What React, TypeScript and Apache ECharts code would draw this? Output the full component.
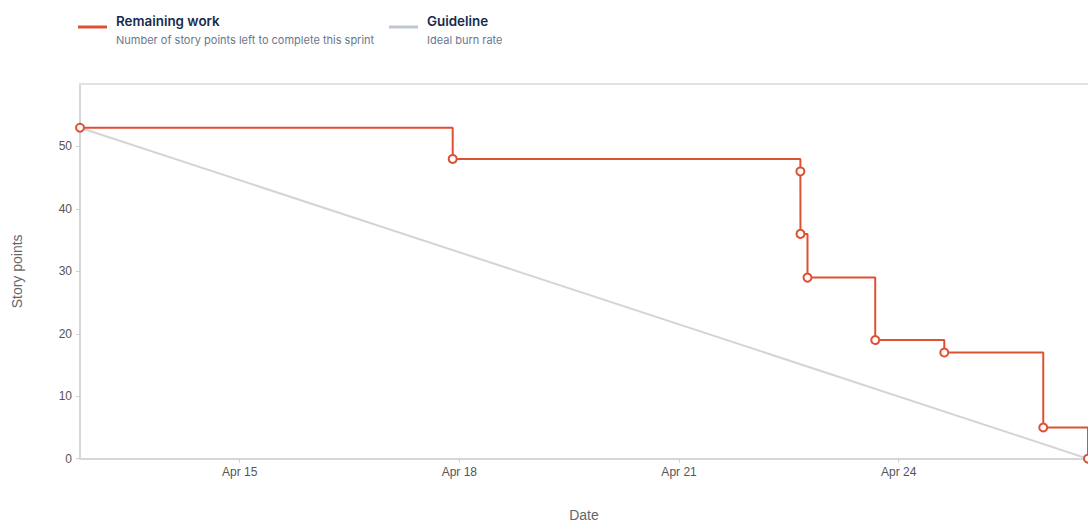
import React, { useEffect, useRef } from 'react';
import * as echarts from 'echarts';

const remainingTimes = [
  '2024-04-12T19:40', '2024-04-17T21:49', '2024-04-22T15:46', '2024-04-22T15:48',
  '2024-04-22T18:06', '2024-04-23T16:18', '2024-04-24T14:56', '2024-04-25T23:22', '2024-04-26T14:02',
];
const remainingPoints = [53, 48, 46, 36, 29, 19, 17, 5, 0];
const guideTimes = ['2024-04-12T19:40', '2024-04-26T14:02'];
const guidePoints = [53, 0];
const xTickDates = ['2024-04-15T00:00', '2024-04-18T00:00', '2024-04-21T00:00', '2024-04-24T00:00'];
const yTicks = [0, 10, 20, 30, 40, 50];
const monthNames = ['Jan', 'Feb', 'Mar', 'Apr', 'May', 'Jun', 'Jul', 'Aug', 'Sep', 'Oct', 'Nov', 'Dec'];

const RED = '#DE5034';
const toMs = (s: string) => Date.parse(s + ':00Z');

export default function App() {
  const ref = useRef<HTMLDivElement>(null);
  useEffect(() => {
    if (!ref.current) return;
    const chart = echarts.init(ref.current, undefined, { renderer: 'svg' });
    const xMin = toMs(guideTimes[0]);
    const xMax = toMs(guideTimes[1]);
    const xTicks = xTickDates.map(toMs);
    const axisFont = '"Liberation Sans", Arial, sans-serif';
    const legendFont = 'Inter, "Noto Sans", sans-serif';
    chart.setOption({
      animation: false,
      grid: { left: 80, top: 84, right: 0, bottom: 63.3, containLabel: false, outerBoundsMode: 'none' },
      xAxis: [
        {
          type: 'value',
          min: xMin,
          max: xMax,
          name: 'Date',
          nameLocation: 'middle',
          nameGap: 49,
          nameTextStyle: { color: '#666', fontSize: 14, fontFamily: axisFont },
          axisLine: { show: true, lineStyle: { color: '#d6d6d6', width: 2 } },
          axisTick: { show: true, length: 4, customValues: xTicks, lineStyle: { color: '#cfcfcf' } },
          axisLabel: {
            customValues: xTicks,
            color: '#555',
            fontSize: 12,
            fontFamily: axisFont,
            margin: 7,
            formatter: (v: number) => {
              const d = new Date(v);
              return monthNames[d.getUTCMonth()] + ' ' + d.getUTCDate();
            },
          },
          splitLine: { show: false },
        },
        {
          type: 'value',
          position: 'top',
          min: xMin,
          max: xMax,
          axisLine: { show: true, lineStyle: { color: '#e2e2e2', width: 2 } },
          axisTick: { show: false },
          axisLabel: { show: false },
          splitLine: { show: false },
        },
      ],
      yAxis: {
        type: 'value',
        min: 0,
        max: 60,
        name: 'Story points',
        nameLocation: 'middle',
        nameRotate: 90,
        nameGap: 56,
        nameTextStyle: { color: '#666', fontSize: 14, fontFamily: axisFont },
        axisLine: { show: true, lineStyle: { color: '#d6d6d6', width: 2 } },
        axisTick: { show: true, length: 4, customValues: yTicks, lineStyle: { color: '#cfcfcf' } },
        axisLabel: { customValues: yTicks, color: '#555', fontSize: 12, fontFamily: axisFont, margin: 8 },
        splitLine: { show: false },
      },
      graphic: [
        { type: 'line', shape: { x1: 78, y1: 27, x2: 107, y2: 27 }, style: { stroke: RED, lineWidth: 3 } },
        {
          type: 'text', x: 116, y: 21,
          style: { text: 'Remaining work', fill: '#172B4D', fontSize: 13.4, fontWeight: 600, fontFamily: legendFont, verticalAlign: 'middle' },
        },
        {
          type: 'text', x: 116, y: 39.5,
          style: { text: 'Number of story points left to complete this sprint', fill: '#6B778C', fontSize: 11, fontFamily: legendFont, verticalAlign: 'middle' },
        },
        { type: 'line', shape: { x1: 389, y1: 27, x2: 418, y2: 27 }, style: { stroke: '#C1C7D0', lineWidth: 3 } },
        {
          type: 'text', x: 427, y: 21,
          style: { text: 'Guideline', fill: '#172B4D', fontSize: 13.4, fontWeight: 600, fontFamily: legendFont, verticalAlign: 'middle' },
        },
        {
          type: 'text', x: 427, y: 39.5,
          style: { text: 'Ideal burn rate', fill: '#6B778C', fontSize: 11, fontFamily: legendFont, verticalAlign: 'middle' },
        },
      ],
      series: [
        {
          name: 'Guideline',
          type: 'line',
          data: guideTimes.map((t, i) => [toMs(t), guidePoints[i]]),
          symbol: 'none',
          lineStyle: { color: '#d4d4d4', width: 2 },
          z: 1,
          silent: true,
        },
        {
          name: 'Remaining work',
          type: 'line',
          step: 'end',
          data: remainingTimes.map((t, i) => [toMs(t), remainingPoints[i]]),
          symbol: 'circle',
          symbolSize: 8,
          showAllSymbol: true,
          lineStyle: { color: RED, width: 2 },
          itemStyle: { color: '#fff', borderColor: RED, borderWidth: 2 },
          z: 3,
        },
      ],
    });
    return () => chart.dispose();
  }, []);
  return <div ref={ref} style={{ position: 'absolute', left: 0, top: 0, width: 1088, height: 522 }} />;
}
